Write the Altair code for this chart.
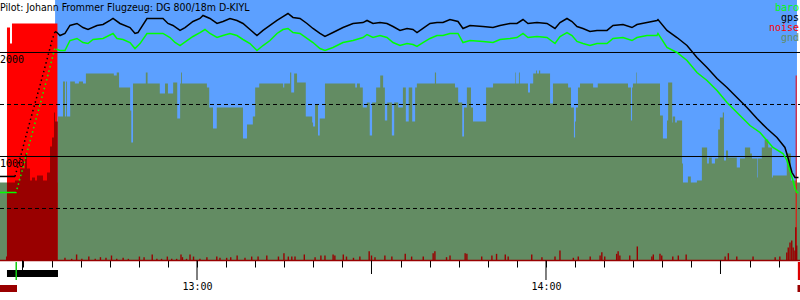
import altair as alt
import pandas as pd

TITLE = "Pilot: Johann Frommer Flugzeug: DG 800/18m D-KIYL"

# all times: minutes after 12:00 ; all heights: metres
X_DOMAIN = [26.13, 163.67]
Y_DOMAIN = [4.8, 2504.8]
FLIGHT_WINDOW = [35.6, 163.15]

gnd_t = [26.13, 36.10, 36.96, 37.30, 37.50, 37.65, 38.20, 39.00, 39.70, 40.40, 40.90, 45.70, 46.20,
         46.60, 48.50, 48.70, 49.00, 51.20, 51.50, 53.60, 54.50, 55.00, 55.90, 56.60, 57.10, 57.25,
         57.40, 61.70, 62.10, 62.75, 63.40, 67.90, 68.60, 69.60, 70.00, 70.70, 74.80, 75.00, 76.00,
         76.20, 76.70, 77.20, 78.70, 79.80, 79.95, 80.30, 80.80, 81.10, 82.00, 87.20, 87.50, 88.00,
         88.50, 89.20, 89.70, 90.10, 90.80, 91.50, 92.00, 92.30, 92.70, 93.50, 93.90, 94.60, 95.40,
         95.90, 96.40, 97.00, 97.50, 97.80, 100.90, 101.10, 104.35, 104.90, 105.60, 105.90, 106.40,
         107.10, 107.45, 109.70, 110.90, 114.70, 114.80, 115.35, 115.50, 116.90, 117.25, 117.80,
         118.30, 118.45, 118.80, 119.00, 120.70, 121.20, 123.80, 124.30, 124.80, 125.00, 125.15,
         125.50, 125.85, 128.10, 128.90, 134.10, 134.60, 134.80, 134.95, 135.50, 135.60, 139.60,
         140.10, 140.80, 141.00, 141.70, 141.80, 142.20, 142.50, 143.40, 143.55, 144.40, 144.90,
         145.95, 146.80, 147.70, 148.00, 148.50, 149.05, 149.60, 149.90, 150.40, 150.60, 150.95,
         151.30, 152.80, 153.35, 154.20, 155.10, 155.40, 156.30, 156.40, 157.10, 157.60, 158.20,
         158.85, 159.00, 160.60, 161.40, 162.10, 163.15, 163.67]
gnd_m = [750, 1385, 1721, 1385, 1721, 1385, 1721, 1702, 1721, 1702, 1798, 1779, 1808,
         1663, 1442, 1135, 1702, 1808, 1702, 1606, 1702, 1606, 1711, 1365, 1702, 1808,
         1702, 1663, 1471, 1269, 1471, 1173, 1308, 1385, 1663, 1702, 1663, 1702, 1808,
         1615, 1798, 1711, 1385, 1327, 1288, 1500, 1202, 1365, 1702, 1663, 1702, 1663,
         1471, 1519, 1202, 1519, 1663, 1779, 1663, 1346, 1519, 1202, 1519, 1471, 1663,
         1337, 1663, 1337, 1663, 1702, 1808, 1702, 1663, 1519, 1192, 1471, 1663,
         1471, 1337, 1663, 1702, 1808, 1702, 1808, 1702, 1615, 1702, 1798,
         1827, 1798, 1827, 1798, 1510, 1702, 1663, 1471, 1183, 1337, 1471,
         1663, 1702, 1663, 1702, 1663, 1346, 1663, 1702, 1808, 1702, 1394,
         1173, 1346, 1711, 1327, 1385, 1327, 1346, 933, 750, 808, 750,
         769, 1087, 933, 990, 933, 981, 1260, 1375, 1423, 962, 1058,
         990, 894, 981, 1087, 1029, 981, 798, 981, 1087, 1163, 1087,
         798, 817, 817, 1029, 769, 750, 750]

baro_pre_t = [26.13, 28.71]
baro_pre_m = [654, 654]
baro_tow_t = [28.71, 28.88, 29.57, 30.77, 31.80, 33.01, 34.21, 35.59, 35.93]
baro_tow_m = [654, 654, 788, 1038, 1250, 1500, 1750, 2048, 2029]
baro_t = [35.93, 36.45, 37.30, 38.16, 39.37, 40.40, 41.26, 42.12, 43.84, 45.56, 46.24, 47.28, 48.48,
          49.34, 50.20, 51.40, 53.12, 54.15, 55.36, 56.22, 57.08, 58.28, 59.31, 60.51, 61.37, 62.23,
          63.44, 64.47, 65.67, 66.87, 67.91, 69.11, 70.31, 71.35, 72.55, 73.75, 74.78, 75.64, 76.50,
          77.71, 78.91, 79.94, 81.14, 82.00, 83.38, 85.10, 86.82, 88.54, 89.23, 90.26, 91.46, 92.66,
          93.70, 94.90, 96.10, 97.13, 97.82, 98.85, 100.06, 101.26, 102.29, 103.49, 104.87, 105.73,
          106.93, 109.16, 110.89, 112.09, 113.81, 115.01, 116.05, 116.90, 118.45, 120.17, 121.55,
          122.41, 123.61, 124.47, 125.33, 126.36, 127.56, 128.77, 130.49, 131.52, 133.24, 134.78,
          135.64, 137.36, 139.08, 139.25, 140.80, 142.52, 144.24, 145.96, 147.68, 149.40, 151.12,
          153.35, 155.07, 156.79, 157.99, 159.02, 160.74, 161.43, 161.95, 162.46, 162.81, 163.15, 163.41]
baro_m = [2029, 2019, 2019, 2115, 2135, 2096, 2086, 2125, 2135, 2183, 2135, 2125, 2096,
          2038, 2086, 2183, 2183, 2183, 2144, 2096, 2067, 2115, 2154, 2192, 2221, 2183,
          2144, 2163, 2183, 2163, 2125, 2086, 2019, 2067, 2115, 2183, 2221, 2231, 2192,
          2183, 2135, 2096, 2038, 2019, 2048, 2096, 2115, 2144, 2173, 2144, 2163, 2144,
          2096, 2067, 2086, 2077, 2058, 2096, 2135, 2163, 2163, 2183, 2183, 2096,
          2115, 2106, 2096, 2125, 2135, 2144, 2183, 2144, 2154, 2144, 2086,
          2154, 2192, 2163, 2106, 2086, 2067, 2086, 2086, 2135, 2144, 2115,
          2144, 2163, 2163, 2183, 2048, 2000, 1923, 1808, 1731, 1635, 1519,
          1394, 1298, 1231, 1154, 1087, 1029, 962, 865, 769, 692, 654, 654]

gps_pre_t = [26.13, 28.71]
gps_pre_m = [808, 808]
gps_tow_t = [28.71, 29.57, 30.77, 31.80, 33.01, 34.21, 35.07, 35.59]
gps_tow_m = [808, 981, 1231, 1442, 1683, 1933, 2115, 2202]
gps_t = [35.59, 35.93, 36.45, 37.30, 38.16, 39.37, 40.40, 41.26, 42.81, 43.84, 45.04, 45.56, 46.76,
         48.48, 49.34, 49.85, 51.40, 53.12, 54.15, 55.01, 55.87, 57.08, 57.94, 59.31, 60.51, 61.03,
         62.23, 63.44, 64.47, 65.67, 66.87, 67.91, 69.11, 70.31, 71.35, 72.55, 73.75, 74.78, 75.64,
         76.50, 77.71, 78.91, 79.94, 81.14, 82.00, 83.38, 85.10, 86.82, 88.54, 89.23, 90.26, 91.46,
         92.66, 93.70, 94.90, 96.10, 97.13, 97.82, 98.85, 100.06, 101.26, 102.29, 103.49, 104.87,
         105.73, 106.93, 109.16, 110.89, 112.09, 113.81, 115.01, 116.05, 116.90, 118.45, 120.17,
         121.55, 122.41, 123.61, 124.47, 125.33, 126.36, 127.56, 128.77, 130.49, 131.52, 133.24,
         134.78, 135.64, 137.36, 139.08, 139.25, 140.80, 142.52, 144.24, 145.96, 147.68, 149.40,
         151.12, 152.83, 154.55, 156.27, 157.99, 159.71, 161.08, 161.60, 162.29, 162.81, 163.41]
gps_m = [2202, 2192, 2163, 2183, 2260, 2279, 2240, 2221, 2260, 2269, 2308, 2327, 2279,
         2240, 2183, 2192, 2327, 2327, 2327, 2279, 2260, 2212, 2240, 2298, 2327, 2356,
         2327, 2279, 2298, 2327, 2308, 2279, 2221, 2163, 2212, 2260, 2308, 2346, 2375,
         2337, 2327, 2279, 2231, 2183, 2154, 2192, 2240, 2279, 2288, 2308, 2279, 2288,
         2279, 2250, 2212, 2231, 2221, 2192, 2231, 2279, 2288, 2288, 2317, 2298,
         2231, 2260, 2250, 2240, 2260, 2279, 2279, 2317, 2279, 2288, 2279,
         2231, 2288, 2327, 2298, 2250, 2231, 2202, 2212, 2212, 2260, 2269,
         2240, 2269, 2288, 2308, 2317, 2212, 2144, 2067, 1952, 1856, 1750,
         1663, 1567, 1471, 1365, 1269, 1183, 1087, 990, 846, 798, 798]

noise_t = [27.33, 27.85, 28.19, 36.00, 162.93, 163.10]
noise_m = [2240, 2086, 2279, 0, 1779, 0]

engine_t = [27.16, 27.33, 28.71, 29.57, 30.43, 30.77, 31.29, 31.63, 32.15, 32.49, 33.52, 34.21,
            34.73, 35.07, 35.41, 35.59, 36.05]
engine_m = [38, 750, 769, 885, 1029, 885, 769, 798, 769, 817, 769, 846, 1096, 1183, 1423, 1337, 0]

spike_t = [37.3, 38.45, 39.3, 40.2, 41.4, 42.5, 43.4, 44.35, 45.3, 46.2, 47.3, 48.2, 50.1, 50.9,
           52.3, 53.1, 53.9, 54.9, 55.65, 56.5, 57.25, 57.5, 58.2, 58.8, 59.4, 60.5, 61.7, 63.4,
           63.95, 65.1, 65.8, 66.9, 68.25, 69.4, 70.5, 72.0, 74.0, 74.95, 75.7, 76.3, 76.85, 78.45,
           80.3, 81.3, 82.0, 83.4, 83.7, 85.15, 85.7, 86.9, 88.0, 89.6, 90.0, 90.6, 92.3, 93.5,
           95.8, 96.9, 98.9, 100.6, 100.9, 102.9, 103.5, 106.1, 106.4, 108.95, 110.7, 111.5, 113.0,
           113.5, 117.55, 119.3, 121.55, 122.4, 124.7, 125.55, 127.6, 129.3, 129.6, 130.1, 132.15,
           132.4, 132.7, 134.4, 135.7, 138.2, 138.45, 139.6, 139.9, 141.8, 142.75, 144.1, 150.8,
           151.35, 152.8, 155.6, 159.4, 160.2, 161.4, 161.65, 161.95, 162.25, 162.5, 162.8, 162.95,
           163.1]
spike_m = [26, 16, 58, 16, 38, 16, 32, 26, 48, 16, 26, 16, 38, 32,
           58, 16, 16, 38, 16, 16, 58, 32, 16, 58, 38, 16, 32, 38,
           26, 26, 32, 48, 26, 38, 38, 48, 38, 70, 38, 38, 38, 58,
           32, 48, 48, 58, 48, 58, 38, 26, 38, 90, 48, 32, 48, 38,
           64, 38, 38, 70, 90, 32, 48, 70, 64, 38, 48, 64, 58,
           38, 58, 32, 38, 96, 26, 38, 38, 48, 80, 38, 64,
           90, 48, 48, 135, 38, 58, 64, 48, 38, 48, 58, 38,
           70, 38, 38, 32, 38, 77, 125, 173, 192, 125, 96, 320,
           144]

GRID_SOLID = [1000, 2000]
GRID_DASHED = [500, 1500]
MINOR_TICKS = list(range(30, 165, 5))
HALF_HOURS = [30, 90, 150]
HOURS = [60, 120]

TOW_BAR = [27.33, 36.10]
TAKEOFF_MARK = [28.79, 29.05]
LANDING_MARK = [163.30, 163.67]
LOG_MARKS_START = [26.13, 163.24]
LOG_MARKS_END = [29.05, 163.67]

LEGEND = ["baro", "gps", "noise", "gnd"]

BLUE = "#5CA0FF"
GND = "#638C63"
RED = "#FF0000"
DARKRED = "#990000"
GREEN = "#00FF00"
MONO = "DejaVu Sans Mono"
NARROW = "DejaVu Sans Condensed"

xs = alt.Scale(domain=X_DOMAIN, nice=False, zero=False)
ys = alt.Scale(domain=Y_DOMAIN, nice=False, zero=False)

xaxis = alt.Axis(values=MINOR_TICKS, tickSize=7, tickColor="black", tickWidth=1, domain=False,
                 grid=False, labelExpr="datum.value % 60 == 0 ? (12 + datum.value / 60) + ':00' : ''",
                 labelFont=MONO, labelFontSize=10, labelColor="black", labelPadding=14,
                 labelFlush=False, labelOverlap=False, title=None)


def X(f):
    return alt.X(f, type="quantitative", scale=xs, axis=xaxis)


def Y(f):
    return alt.Y(f, type="quantitative", scale=ys, axis=None)


def df(**kw):
    return pd.DataFrame(kw)


bg = alt.Chart(df(t0=[FLIGHT_WINDOW[0]], t1=[FLIGHT_WINDOW[1]])).mark_rect(color=BLUE).encode(
    x=X("t0"), x2="t1", y=alt.value(0), y2=alt.value(260.5))

ground = alt.Chart(df(t=gnd_t, m=gnd_m)).mark_area(interpolate="step-after", color=GND).encode(
    x=X("t"), y=Y("m"))

noise = alt.Chart(df(t=noise_t, m=noise_m)).mark_area(interpolate="step-after", color=RED).encode(
    x=X("t"), y=Y("m"))

engine = alt.Chart(df(t=engine_t, m=engine_m)).mark_area(interpolate="step-after", color=DARKRED).encode(
    x=X("t"), y=Y("m"))

spikes = alt.Chart(df(t=spike_t, m=spike_m, z=[0] * len(spike_t))).mark_rule(
    strokeWidth=1.4, color=DARKRED).encode(x=X("t"), y=Y("m"), y2="z")

base_rule = alt.Chart(df(m=[0])).mark_rule(color=DARKRED, strokeWidth=1.5).encode(
    y=Y("m"), x=alt.value(0), x2=alt.value(800))

grid_solid = alt.Chart(df(m=GRID_SOLID)).mark_rule(color="black", strokeWidth=1).encode(
    y=Y("m"), x=alt.value(0), x2=alt.value(800))
grid_dash = alt.Chart(df(m=GRID_DASHED)).mark_rule(color="black", strokeWidth=1, strokeDash=[4, 3]).encode(
    y=Y("m"), x=alt.value(0), x2=alt.value(800))

ylabels = alt.Chart(df(m=GRID_SOLID)).mark_text(align="left", baseline="alphabetic", dy=10.5,
                                                font=MONO, fontSize=10, color="black").encode(
    y=Y("m"), x=alt.value(0), text="m:N")

baro_solid = alt.Chart(pd.concat([
    df(t=baro_pre_t, m=baro_pre_m, seg="pre"),
    df(t=baro_t, m=baro_m, seg="flight")])).mark_line(color=GREEN, strokeWidth=1.5).encode(
    x=X("t"), y=Y("m"), detail="seg:N")
baro_tow = alt.Chart(df(t=baro_tow_t, m=baro_tow_m)).mark_line(
    color=GREEN, strokeWidth=1.5, strokeDash=[1.5, 3]).encode(x=X("t"), y=Y("m"))

gps_solid = alt.Chart(pd.concat([
    df(t=gps_pre_t, m=gps_pre_m, seg="pre"),
    df(t=gps_t, m=gps_m, seg="flight")])).mark_line(color="black", strokeWidth=1.5).encode(
    x=X("t"), y=Y("m"), detail="seg:N")
gps_tow = alt.Chart(df(t=gps_tow_t, m=gps_tow_m)).mark_line(
    color="black", strokeWidth=1.5, strokeDash=[1.5, 3]).encode(x=X("t"), y=Y("m"))

hour_ticks = alt.Chart(df(t=HOURS)).mark_rule(color="black", strokeWidth=1).encode(
    x=X("t"), y=alt.value(260.5), y2=alt.value(280))
half_ticks = alt.Chart(df(t=HALF_HOURS)).mark_rule(color="black", strokeWidth=1).encode(
    x=X("t"), y=alt.value(260.5), y2=alt.value(274))

tow_bar = alt.Chart(df(t0=[TOW_BAR[0]], t1=[TOW_BAR[1]])).mark_rect(color="black").encode(
    x=X("t0"), x2="t1", y=alt.value(270), y2=alt.value(277))
takeoff = alt.Chart(df(t0=[TAKEOFF_MARK[0]], t1=[TAKEOFF_MARK[1]])).mark_rect(color="#11CC11").encode(
    x=X("t0"), x2="t1", y=alt.value(262), y2=alt.value(280))
landing = alt.Chart(df(t0=[LANDING_MARK[0]], t1=[LANDING_MARK[1]])).mark_rect(color="#DD0000").encode(
    x=X("t0"), x2="t1", y=alt.value(262), y2=alt.value(280))
logs = alt.Chart(df(t0=LOG_MARKS_START, t1=LOG_MARKS_END)).mark_rect(color=DARKRED).encode(
    x=X("t0"), x2="t1", y=alt.value(285), y2=alt.value(292))

title = alt.Chart(df(s=[TITLE])).mark_text(align="left", baseline="alphabetic", font=NARROW,
                                           fontSize=10.5, color="black").encode(
    x=alt.value(0), y=alt.value(10.5), text="s:N")

leg_colors = [GREEN, "black", RED, GND]
legend_layers = []
for i, (name, col) in enumerate(zip(LEGEND, leg_colors)):
    legend_layers.append(
        alt.Chart(df(s=[name])).mark_text(align="right", baseline="alphabetic", font=MONO,
                                          fontSize=10, color=col).encode(
            x=alt.value(799), y=alt.value(11 + 10 * i), text="s:N"))

chart = alt.layer(
    bg, ground, noise, engine, spikes, base_rule, grid_solid, grid_dash,
    baro_solid, baro_tow, gps_solid, gps_tow, ylabels,
    hour_ticks, half_ticks, tow_bar, takeoff, landing, logs, title, *legend_layers
).properties(
    width=800, height=260,
    padding={"left": 0, "top": 0, "right": 0, "bottom": 40},
    autosize=alt.AutoSizeParams(type="none"),
    background="white",
).configure_view(stroke=None)

chart.save("out.html", embed_options={"renderer": "svg", "actions": False})
